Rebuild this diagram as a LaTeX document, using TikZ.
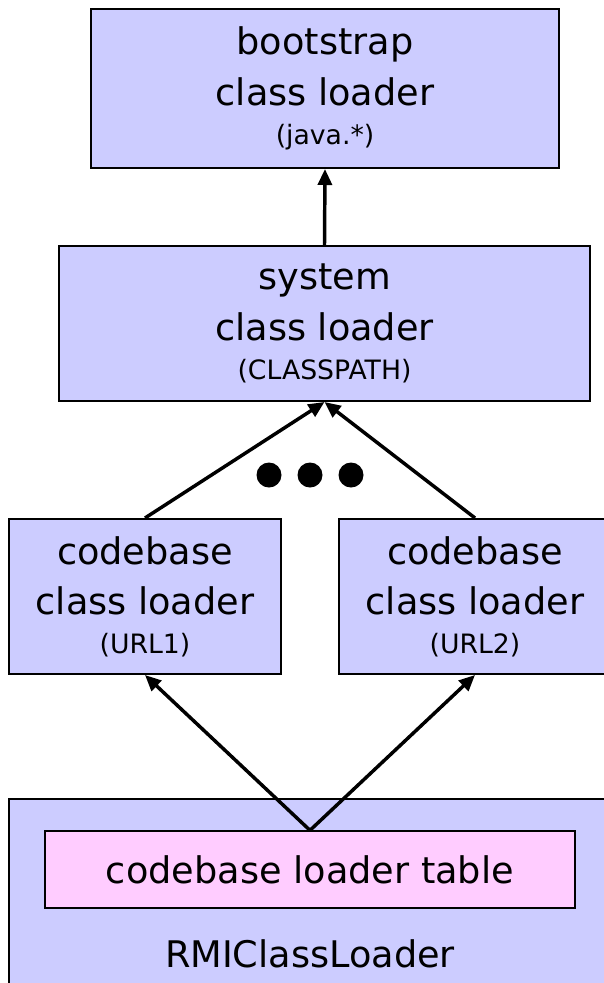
\documentclass[tikz,border=0pt]{standalone}
\usepackage{fontspec}
\setmainfont{DejaVu Sans}
\usetikzlibrary{arrows.meta}
\definecolor{loaderblue}{HTML}{CCCCFF}
\definecolor{tablepink}{HTML}{FFCCFF}
\tikzset{
  loader/.style={draw=black, line width=1.5pt, fill=loaderblue, inner sep=0pt,
    align=center, font=\fontsize{27.5}{38}\selectfont},
  tablebox/.style={draw=black, line width=1pt, fill=tablepink, inner sep=0pt,
    font=\fontsize{27.5}{38}\selectfont},
  delegate/.style={line width=2.6pt, -{Triangle[length=12pt,width=10.5pt]}},
}
\newcommand{\sub}[1]{{\fontsize{20}{24}\selectfont #1}}
\begin{document}
\begin{tikzpicture}[x=0.75pt,y=-0.75pt]
  \clip (0,0) rectangle (604,983);
  \fill[white] (0,0) rectangle (604,983);

  % class loader hierarchy
  \node[loader, minimum width=351pt, minimum height=119.25pt] (boot) at (325,88.5)
    {bootstrap\\class loader\\[-9pt]\sub{(java.*)}};
  \node[loader, minimum width=398.25pt, minimum height=116.25pt] (sys) at (324.5,323.5)
    {system\\class loader\\[-9pt]\sub{(CLASSPATH)}};
  \node[loader, minimum width=204pt, minimum height=116.25pt] (cb1) at (145,596.5)
    {codebase\\class loader\\[-9pt]\sub{(URL1)}};
  \node[loader, minimum width=204pt, minimum height=116.25pt] (cb2) at (475,596.5)
    {codebase\\class loader\\[-9pt]\sub{(URL2)}};

  % RMIClassLoader with its table
  \node[loader, minimum width=451.5pt, minimum height=158.25pt] (rmi) at (310,904.5) {};
  \node[tablebox, minimum width=397.5pt, minimum height=57.75pt] (table) at (310,869.5)
    {codebase loader table};
  \node[font=\fontsize{27.5}{38}\selectfont, anchor=base, inner sep=0pt] (rmilabel) at (310,967)
    {RMIClassLoader};

  % delegation arrows
  \draw[delegate] (sys.north) -- (boot.south);
  \draw[delegate] (cb1.north) -- (sys.south);
  \draw[delegate] (cb2.north) -- (sys.south);
  \draw[delegate] (table.north) -- (cb1.south);
  \draw[delegate] (table.north) -- (cb2.south);

  % more codebase loaders
  \foreach \x in {269,310,351} \fill (\x,475) circle[radius=12.5];
\end{tikzpicture}
\end{document}
